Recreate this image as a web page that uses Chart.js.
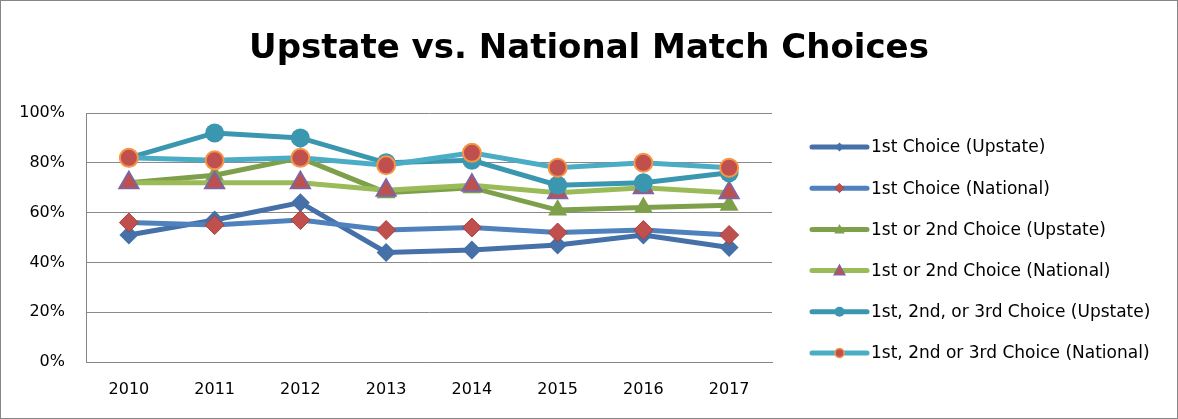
<!DOCTYPE html>
<html>
<head>
<meta charset="utf-8">
<script src="https://cdn.jsdelivr.net/npm/chart.js@4"></script>
<style>
  html, body { margin: 0; padding: 0; background: #fff; }
  #wrap { width: 1178px; height: 419px; box-sizing: border-box; border: 1px solid #868686; }
</style>
</head>
<body>
<div id="wrap"><canvas id="myChart"></canvas></div>
<script>
const years = ['2010', '2011', '2012', '2013', '2014', '2015', '2016', '2017'];
const firstUpstate = [51, 57, 64, 44, 45, 47, 51, 46];
const firstNational = [56, 55, 57, 53, 54, 52, 53, 51];
const secondUpstate = [72, 75, 82, 68, 70, 61, 62, 63];
const secondNational = [72, 72, 72, 69, 71, 68, 70, 68];
const thirdUpstate = [82, 92, 90, 80, 81, 71, 72, 76];
const thirdNational = [82, 81, 82, 79, 84, 78, 80, 78];
const yTicks = [0, 20, 40, 60, 80, 100];

const fontFamily = "'DejaVu Sans', 'Liberation Sans', sans-serif";

function drawMarker(g, style, x, y, radius, fill, border, borderWidth) {
    g.fillStyle = fill;
    g.strokeStyle = border;
    g.lineWidth = borderWidth;
    g.beginPath();
    if (style === 'rectRot') {
        g.moveTo(x, y - radius);
        g.lineTo(x + radius, y);
        g.lineTo(x, y + radius);
        g.lineTo(x - radius, y);
        g.closePath();
    } else if (style === 'triangle') {
        g.moveTo(x, y - radius);
        g.lineTo(x + radius * 0.95, y + radius * 0.75);
        g.lineTo(x - radius * 0.95, y + radius * 0.75);
        g.closePath();
    } else {
        g.arc(x, y, radius, 0, Math.PI * 2);
    }
    g.fill();
    if (borderWidth > 0) g.stroke();
}

function makeSeries(label, values, lineColor, style, fill, border, borderWidth, radius, legendRadius, order) {
    return {
        label: label,
        data: values,
        borderColor: lineColor,
        backgroundColor: fill,
        borderWidth: 5,
        tension: 0,
        pointStyle: style,
        pointRadius: radius,
        pointBackgroundColor: fill,
        pointBorderColor: border,
        pointBorderWidth: borderWidth,
        order: order,
        legendRadius: legendRadius
    };
}

const datasets = [
    makeSeries('1st Choice (Upstate)', firstUpstate, '#4570A8', 'rectRot', '#4570A8', '#4570A8', 0, 9.5, 4.5, 6),
    makeSeries('1st Choice (National)', firstNational, '#4F81BD', 'rectRot', '#C0504D', '#A8403D', 1, 9.5, 4.5, 5),
    makeSeries('1st or 2nd Choice (Upstate)', secondUpstate, '#7EA04B', 'triangle', '#7EA04B', '#7EA04B', 0, 11, 5.5, 4),
    makeSeries('1st or 2nd Choice (National)', secondNational, '#9BBB59', 'triangle', '#C0504D', '#7F64A2', 2, 11, 5.5, 3),
    makeSeries('1st, 2nd, or 3rd Choice (Upstate)', thirdUpstate, '#3B97AF', 'circle', '#3B97AF', '#3B97AF', 0, 9.5, 5, 2),
    makeSeries('1st, 2nd or 3rd Choice (National)', thirdNational, '#4BACC6', 'circle', '#C0504D', '#F79646', 2, 9, 4.5, 1)
];

// legend drawn beside the plot: line sample with marker, then label
const sideLegend = {
    id: 'sideLegend',
    afterLayout(chart) {
        // centre the title over the whole picture, not just the plot
        const t = chart.titleBlock;
        if (t) {
            t.left = 0;
            t.right = chart.width;
            t.width = chart.width;
        }
    },
    afterDraw(chart) {
        const g = chart.ctx;
        const x0 = 811, x1 = 866, textX = 870;
        const top = 146, step = 41.2;
        g.save();
        g.font = '17px ' + fontFamily;
        g.textBaseline = 'middle';
        chart.data.datasets.forEach((ds, i) => {
            const y = top + i * step;
            g.strokeStyle = ds.borderColor;
            g.lineWidth = 5;
            g.lineCap = 'round';
            g.beginPath();
            g.moveTo(x0, y);
            g.lineTo(x1, y);
            g.stroke();
            drawMarker(g, ds.pointStyle, (x0 + x1) / 2, y, ds.legendRadius,
                ds.pointBackgroundColor, ds.pointBorderColor, Math.min(ds.pointBorderWidth, 1.5));
            g.fillStyle = '#000';
            g.fillText(ds.label, textX, y + 1);
        });
        g.restore();
    }
};

const ctx = document.getElementById('myChart');
const chart = new Chart(ctx, {
    type: 'line',
    data: { labels: years, datasets: datasets },
    plugins: [sideLegend],
    options: {
        responsive: true,
        maintainAspectRatio: false,
        animation: false,
        layout: { padding: { left: 0, right: 405, top: 0, bottom: 0 } },
        plugins: {
            title: {
                display: true,
                text: 'Upstate vs. National Match Choices',
                color: '#000',
                font: { family: fontFamily, size: 34, weight: 'bold' },
                padding: { top: 28, bottom: 43.2 }
            },
            legend: { display: false },
            tooltip: { enabled: false }
        },
        scales: {
            x: {
                offset: true,
                grid: { display: false, drawTicks: false },
                border: { display: true, color: '#868686', width: 1 },
                ticks: { color: '#000', font: { family: fontFamily, size: 16 }, padding: 18 },
                afterFit: (scale) => { scale.height = 56; }
            },
            y: {
                min: 0,
                max: 100,
                afterBuildTicks: (axis) => { axis.ticks = yTicks.map(v => ({ value: v })); },
                afterFit: (scale) => { scale.width = 85; },
                grid: { color: '#8a8a8a', lineWidth: 1, drawTicks: false },
                border: { display: true, color: '#868686', width: 1 },
                ticks: {
                    color: '#000',
                    font: { family: fontFamily, size: 16 },
                    padding: 21,
                    callback: (v) => v + '%'
                }
            }
        }
    }
});
</script>
</body>
</html>
